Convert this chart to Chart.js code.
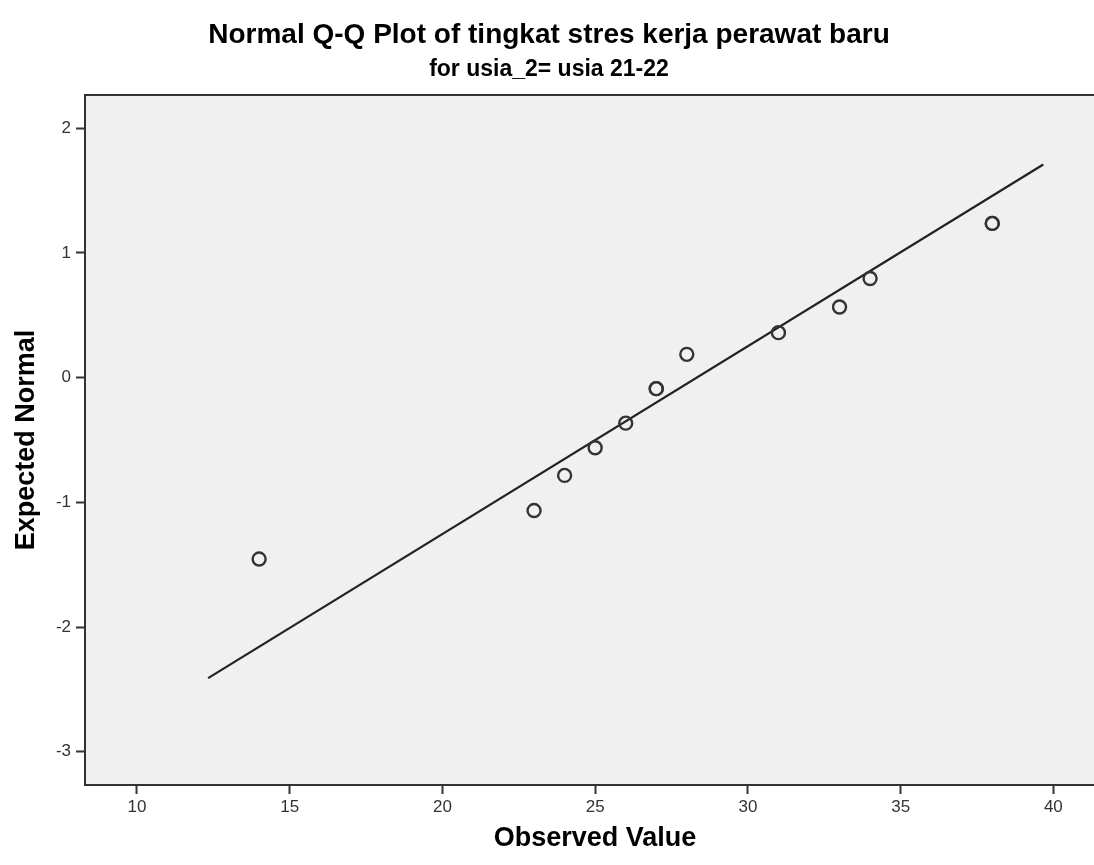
<!DOCTYPE html>
<html>
<head>
<meta charset="utf-8">
<script src="https://cdn.jsdelivr.net/npm/chart.js@4/dist/chart.umd.min.js"></script>
<style>
  html, body { margin: 0; padding: 0; background: #ffffff; overflow: hidden; }
  #wrap { width: 1094px; height: 865px; }
  canvas { display: block; }
</style>
</head>
<body>
<div id="wrap"><canvas id="c" width="1094" height="865"></canvas></div>
<script>
const chartTitle = "Normal Q-Q Plot of tingkat stres kerja perawat baru";
const chartSubtitle = "for usia_2= usia 21-22";
const xAxisTitle = "Observed Value";
const yAxisTitle = "Expected Normal";

const observedValues = [14, 23, 24, 25, 26, 27, 27, 28, 31, 33, 34, 38, 38];
const expectedNormal = [-1.455, -1.066, -0.784, -0.562, -0.365, -0.088, -0.088, 0.187, 0.361, 0.567, 0.795, 1.237, 1.237];

const refLineX = [12.33, 39.67];
const refLineY = [-2.41, 1.71];

const xTicks = [10, 15, 20, 25, 30, 35, 40];
const yTicks = [-3, -2, -1, 0, 1, 2];
const xRange = [8.30, 41.33];
const yRange = [-3.267, 2.267];

const FONT = "'Liberation Sans', Arial, sans-serif";

const points = observedValues.map((v, i) => ({ x: v, y: expectedNormal[i] }));
const linePts = refLineX.map((v, i) => ({ x: v, y: refLineY[i] }));

const framePlugin = {
  id: 'frame',
  beforeDraw(chart) {
    const { ctx, chartArea: a } = chart;
    ctx.save();
    ctx.fillStyle = '#ffffff';
    ctx.fillRect(0, 0, chart.width, chart.height);
    ctx.fillStyle = '#f0f0f0';
    ctx.fillRect(a.left, a.top, a.right - a.left, a.bottom - a.top);
    ctx.restore();
  },
  afterDraw(chart) {
    const { ctx, chartArea: a } = chart;
    ctx.save();
    ctx.strokeStyle = '#333333';
    ctx.lineWidth = 2;
    ctx.beginPath();
    ctx.moveTo(a.left, a.top);
    ctx.lineTo(a.right, a.top);
    ctx.stroke();

    ctx.fillStyle = '#000000';
    ctx.textAlign = 'center';
    ctx.textBaseline = 'alphabetic';
    ctx.font = "bold 28px " + FONT;
    ctx.fillText(chartTitle, 549, 43);
    ctx.font = "bold 23px " + FONT;
    ctx.fillText(chartSubtitle, 549, 76);

    ctx.font = "bold 27px " + FONT;
    ctx.fillText(xAxisTitle, 595, 846);

    ctx.save();
    ctx.translate(34, 440);
    ctx.rotate(-Math.PI / 2);
    ctx.font = "bold 27px " + FONT;
    ctx.fillText(yAxisTitle, 0, 0);
    ctx.restore();
    ctx.restore();
  }
};

new Chart(document.getElementById('c'), {
  type: 'scatter',
  data: {
    datasets: [
      {
        type: 'line',
        data: linePts,
        borderColor: '#222222',
        borderWidth: 2.2,
        pointRadius: 0,
        fill: false,
        order: 2
      },
      {
        type: 'scatter',
        data: points,
        pointStyle: 'circle',
        pointRadius: 6.5,
        pointBorderWidth: 2.4,
        borderColor: '#333333',
        backgroundColor: 'rgba(0,0,0,0)',
        order: 1
      }
    ]
  },
  options: {
    responsive: false,
    animation: false,
    devicePixelRatio: 1,
    layout: { autoPadding: false, padding: { top: 95, left: 0, right: 0, bottom: 0 } },
    plugins: {
      legend: { display: false },
      tooltip: { enabled: false },
      title: { display: false }
    },
    scales: {
      x: {
        type: 'linear',
        min: xRange[0],
        max: xRange[1],
        afterBuildTicks(scale) { scale.ticks = xTicks.map(v => ({ value: v })); },
        afterFit(scale) { scale.height = 80; },
        grid: { display: true, drawOnChartArea: false, drawTicks: true, tickLength: 9, tickColor: '#333333', tickWidth: 2 },
        border: { display: true, color: '#333333', width: 2 },
        ticks: { color: '#333333', font: { family: FONT, size: 17 }, padding: 3, maxRotation: 0 },
        title: { display: false }
      },
      y: {
        type: 'linear',
        min: yRange[0],
        max: yRange[1],
        afterBuildTicks(scale) { scale.ticks = yTicks.map(v => ({ value: v })); },
        afterFit(scale) { scale.width = 85; },
        grid: { display: true, drawOnChartArea: false, drawTicks: true, tickLength: 9, tickColor: '#333333', tickWidth: 2 },
        border: { display: true, color: '#333333', width: 2 },
        ticks: { color: '#333333', font: { family: FONT, size: 17 }, padding: 5 },
        title: { display: false }
      }
    }
  },
  plugins: [framePlugin]
});
</script>
</body>
</html>
